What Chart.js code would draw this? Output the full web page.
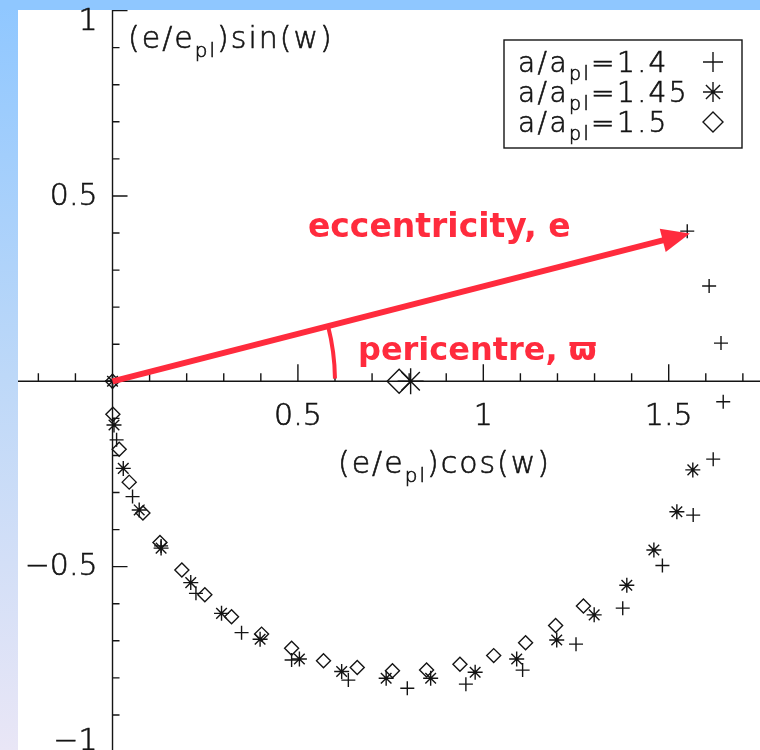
<!DOCTYPE html>
<html>
<head>
<meta charset="utf-8">
<script src="https://cdn.jsdelivr.net/npm/chart.js@4"></script>
<style>
  html, body { margin: 0; padding: 0; background: #ffffff; overflow: hidden; }
  canvas { display: block; }
</style>
</head>
<body>
<canvas id="orbit" width="760" height="750"></canvas>
<script>
// Eccentricity vector samples, one series per semimajor-axis ratio a/a_pl
const x14  = [0, 0.011, 0.054, 0.131, 0.225, 0.348, 0.483, 0.636, 0.795, 0.953, 1.106, 1.250, 1.376, 1.483, 1.566, 1.620, 1.647, 1.641, 1.609, 1.550];
const y14  = [0, -0.158, -0.311, -0.444, -0.572, -0.678, -0.752, -0.806, -0.828, -0.817, -0.779, -0.709, -0.612, -0.497, -0.361, -0.210, -0.055, 0.103, 0.257, 0.405];

const x145 = [0, 0.004, 0.029, 0.072, 0.131, 0.211, 0.294, 0.398, 0.504, 0.618, 0.738, 0.858, 0.978, 1.090, 1.198, 1.299, 1.387, 1.460, 1.522, 1.565];
const y145 = [0, -0.118, -0.235, -0.347, -0.450, -0.543, -0.626, -0.696, -0.749, -0.783, -0.801, -0.801, -0.785, -0.749, -0.698, -0.630, -0.550, -0.455, -0.352, -0.239];

const x15  = [0, 0.001, 0.018, 0.045, 0.082, 0.128, 0.187, 0.249, 0.321, 0.402, 0.483, 0.569, 0.660, 0.755, 0.847, 0.937, 1.028, 1.114, 1.195, 1.270];
const y15  = [0, -0.089, -0.183, -0.272, -0.355, -0.435, -0.509, -0.576, -0.635, -0.682, -0.720, -0.754, -0.772, -0.781, -0.779, -0.763, -0.740, -0.705, -0.659, -0.606];

// Circle centres (forced eccentricity) for a/a_pl = 1.5 and 1.45
const centreX = [0.773, 0.804];
const centreY = [0, 0];

const seriesLabels = ['a/a_{pl}=1.4', 'a/a_{pl}=1.45', 'a/a_{pl}=1.5'];

// Axis ticks
const xTickValues = [0.5, 1, 1.5];
const xTickLabels = ['0.5', '1', '1.5'];
const yTickValues = [1, 0.5, -0.5, -1];
const yTickLabels = ['1', '0.5', '\u22120.5', '\u22121'];
const minorStep = 0.1;

// Annotation geometry (data units)
const arrowEnd = [1.557, 0.399];
const arcRadius = 0.6;

const INK = '#141414';
const RED = '#ff2b3d';
const THIN = '"DejaVu Sans", "Liberation Sans", sans-serif';

function pts(xs, ys) { return xs.map((v, i) => ({ x: v, y: ys[i] })); }

// thin glyphs get a faint outline so strokes read like plotter lettering
function thinText(ctx, t, x, y) {
  ctx.fillText(t, x, y);
  ctx.strokeText(t, x, y);
}

// Split "a/a_{pl}=1.4" into plain and subscript runs
function parseRich(s) {
  const out = [];
  const re = /_\{([^}]*)\}/g;
  let last = 0, m;
  while ((m = re.exec(s)) !== null) {
    if (m.index > last) out.push([s.slice(last, m.index), false]);
    out.push([m[1], true]);
    last = re.lastIndex;
  }
  if (last < s.length) out.push([s.slice(last), false]);
  return out;
}

function drawRich(ctx, s, x, y, size, spacing) {
  let cx = x;
  ctx.textAlign = 'left';
  ctx.textBaseline = 'alphabetic';
  for (const [t, sub] of parseRich(s)) {
    const fs = sub ? Math.round(size * 0.68) : size;
    ctx.font = `200 ${fs}px ${THIN}`;
    ctx.letterSpacing = spacing + 'px';
    thinText(ctx, t, cx, sub ? y + size * 0.3 : y);
    cx += ctx.measureText(t).width;
  }
  ctx.letterSpacing = '0px';
  return cx - x;
}

function drawMarker(ctx, style, x, y, r) {
  ctx.beginPath();
  if (style === 'cross') {
    ctx.moveTo(x - r, y); ctx.lineTo(x + r, y);
    ctx.moveTo(x, y - r); ctx.lineTo(x, y + r);
  } else if (style === 'star') {
    const d = r * Math.SQRT1_2;
    ctx.moveTo(x - r, y); ctx.lineTo(x + r, y);
    ctx.moveTo(x, y - r); ctx.lineTo(x, y + r);
    ctx.moveTo(x - d, y - d); ctx.lineTo(x + d, y + d);
    ctx.moveTo(x - d, y + d); ctx.lineTo(x + d, y - d);
  } else {
    ctx.moveTo(x, y - r); ctx.lineTo(x + r, y); ctx.lineTo(x, y + r); ctx.lineTo(x - r, y); ctx.closePath();
  }
  ctx.stroke();
}

const isMajor = v => Math.abs(v * 2 - Math.round(v * 2)) < 1e-6;

const framePlugin = {
  id: 'frame',
  beforeDraw(chart) {
    const { ctx, chartArea: a, width, height } = chart;
    ctx.save();
    ctx.fillStyle = '#8fc7ff';
    ctx.fillRect(0, 0, width, height);
    const g = ctx.createLinearGradient(0, 0, 0, height);
    g.addColorStop(0, '#8fc7ff');
    g.addColorStop(0.5, '#bdd8f8');
    g.addColorStop(1, '#e9e6f6');
    ctx.fillStyle = g;
    ctx.fillRect(0, a.top, a.left, height - a.top);
    ctx.fillStyle = '#ffffff';
    ctx.fillRect(a.left, a.top, a.right - a.left, a.bottom - a.top);
    ctx.restore();
  },
  beforeDatasetsDraw(chart) {
    const { ctx, chartArea: a, scales: { x, y } } = chart;
    const x0 = x.getPixelForValue(0), y0 = y.getPixelForValue(0);
    ctx.save();
    ctx.strokeStyle = INK;
    ctx.lineWidth = 1.4;
    ctx.beginPath();
    ctx.moveTo(a.left, y0); ctx.lineTo(a.right, y0);
    ctx.moveTo(x0, a.top); ctx.lineTo(x0, a.bottom);
    // x ticks rise above the axis line
    for (let k = Math.ceil(x.min / minorStep); k * minorStep <= x.max; k++) {
      const v = k * minorStep;
      if (k === 0) continue;
      const p = x.getPixelForValue(v);
      ctx.moveTo(p, y0); ctx.lineTo(p, y0 - (isMajor(v) ? 17 : 8));
    }
    // y ticks point right of the axis line
    for (let k = Math.ceil(y.min / minorStep - 1e-6); k * minorStep <= y.max + 1e-6; k++) {
      const v = k * minorStep;
      if (k === 0) continue;
      const p = y.getPixelForValue(v);
      ctx.moveTo(x0, p); ctx.lineTo(x0 + (isMajor(v) ? 15 : 7), p);
    }
    ctx.stroke();

    // tick labels
    ctx.fillStyle = INK;
    ctx.lineWidth = 0.6;
    ctx.font = `200 30px ${THIN}`;
    ctx.textBaseline = 'middle';
    ctx.textAlign = 'center';
    xTickValues.forEach((v, i) => {
      thinText(ctx, xTickLabels[i], x.getPixelForValue(v), y0 + 36);
    });
    ctx.textAlign = 'right';
    yTickValues.forEach((v, i) => {
      const p = Math.min(Math.max(y.getPixelForValue(v), a.top + 11), a.bottom - 9);
      thinText(ctx, yTickLabels[i], x0 - 15, p + 1);
    });

    // axis titles
    drawRich(ctx, '(e/e_{pl})sin(w)', x.getPixelForValue(0.042), y.getPixelForValue(0.899), 30, 2);
    drawRich(ctx, '(e/e_{pl})cos(w)', x.getPixelForValue(0.608), y.getPixelForValue(-0.248), 30, 2);
    ctx.restore();
  },
  afterDatasetsDraw(chart) {
    const { ctx, chartArea: a, scales: { x, y } } = chart;
    const ox = x.getPixelForValue(0), oy = y.getPixelForValue(0);
    const tx = x.getPixelForValue(arrowEnd[0]), ty = y.getPixelForValue(arrowEnd[1]);
    const ang = Math.atan2(ty - oy, tx - ox);
    const headLen = 28, headHalf = 12;
    const bx = tx - headLen * Math.cos(ang), by = ty - headLen * Math.sin(ang);
    ctx.save();
    ctx.strokeStyle = RED;
    ctx.fillStyle = RED;
    ctx.lineWidth = 6;
    ctx.lineCap = 'butt';
    ctx.beginPath();
    ctx.moveTo(ox, oy); ctx.lineTo(bx + 2 * Math.cos(ang), by + 2 * Math.sin(ang));
    ctx.stroke();
    ctx.beginPath();
    ctx.moveTo(tx, ty);
    ctx.lineTo(bx - headHalf * Math.sin(ang), by + headHalf * Math.cos(ang));
    ctx.lineTo(bx + headHalf * Math.sin(ang), by - headHalf * Math.cos(ang));
    ctx.closePath();
    ctx.fill();

    // pericentre angle arc
    const rPx = x.getPixelForValue(arcRadius) - ox;
    ctx.lineWidth = 4;
    ctx.beginPath();
    ctx.arc(ox, oy, rPx, ang, -0.012);
    ctx.stroke();

    ctx.textAlign = 'left';
    ctx.textBaseline = 'alphabetic';
    ctx.font = `bold 33px "DejaVu Sans", sans-serif`;
    ctx.fillText('eccentricity, e', x.getPixelForValue(0.527), y.getPixelForValue(0.390));
    ctx.font = `bold 32px "DejaVu Sans", sans-serif`;
    ctx.fillText('pericentre, \u03d6', x.getPixelForValue(0.662), y.getPixelForValue(0.057));

    // legend box
    const bxL = a.right - 256, byT = a.top + 30, bw = 238, bh = 108;
    ctx.strokeStyle = INK;
    ctx.lineWidth = 1.4;
    ctx.strokeRect(bxL, byT, bw, bh);
    ctx.fillStyle = INK;
    const styles = chart.data.datasets.slice(0, 3).map(d => d.pointStyle);
    seriesLabels.forEach((lab, i) => {
      const base = byT + 32 + i * 30;
      ctx.lineWidth = 0.6;
      drawRich(ctx, lab, bxL + 14, base, 28, 2.4);
      ctx.lineWidth = 1.4;
      drawMarker(ctx, styles[i], bxL + 209, base - 10, 10);
    });
    ctx.restore();
  }
};

const common = {
  pointBorderColor: INK,
  pointBackgroundColor: 'rgba(0,0,0,0)',
  pointBorderWidth: 1.4,
  showLine: false
};

new Chart(document.getElementById('orbit'), {
  type: 'scatter',
  data: {
    datasets: [
      { label: seriesLabels[0], data: pts(x14, y14), pointStyle: 'cross', pointRadius: 7, ...common },
      { label: seriesLabels[1], data: pts(x145, y145), pointStyle: 'star', pointRadius: 7.5, ...common },
      { label: seriesLabels[2], data: pts(x15, y15), pointStyle: 'rectRot', pointRadius: 7, ...common },
      { label: 'centres', data: pts(centreX, centreY), pointStyle: ['rectRot', 'star'], pointRadius: [12, 13], ...common }
    ]
  },
  options: {
    responsive: false,
    animation: false,
    events: [],
    layout: { autoPadding: false, padding: { left: 18, top: 10, right: 0, bottom: 0 } },
    scales: {
      x: { type: 'linear', min: -0.2549, max: 1.7462, display: false },
      y: { type: 'linear', min: -0.9946, max: 1.0016, display: false }
    },
    plugins: { legend: { display: false }, tooltip: { enabled: false } },
    clip: false
  },
  plugins: [framePlugin]
});
</script>
</body>
</html>
